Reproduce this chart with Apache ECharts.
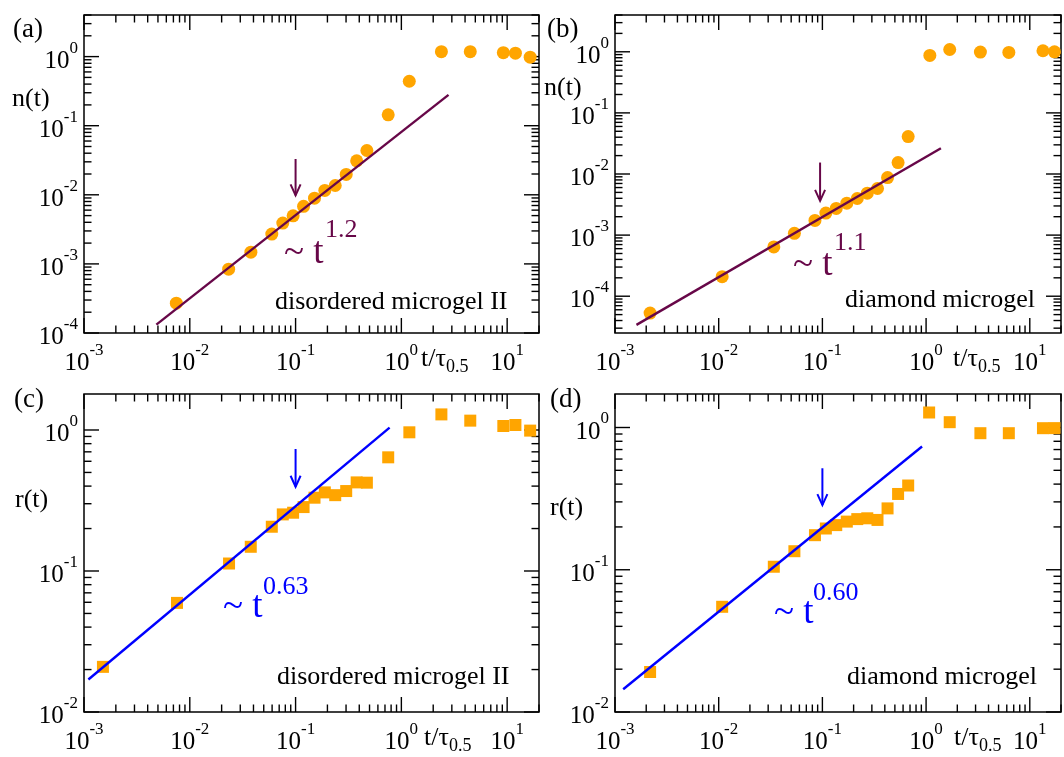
<!DOCTYPE html>
<html>
<head>
<meta charset="utf-8">
<script src="https://cdn.jsdelivr.net/npm/echarts@6/dist/echarts.min.js"></script>
<style>
html,body{margin:0;padding:0;background:#fff;}
#chart{width:1064px;height:757px;}
</style>
</head>
<body>
<div id="chart"></div>
<script>
// ---------------- data ----------------
// (a) n(t), disordered microgel II
const tA = [0.00746, 0.0233, 0.0378, 0.0596, 0.0757, 0.0948, 0.119, 0.151, 0.189, 0.237, 0.301, 0.378, 0.472, 0.751, 1.188, 2.39, 4.48, 9.2, 11.97, 16.5];
const nA = [2.7e-4, 8.4e-4, 1.48e-3, 2.7e-3, 3.9e-3, 4.97e-3, 6.8e-3, 8.95e-3, 0.01156, 0.01364, 0.0197, 0.031, 0.0438, 0.1435, 0.44, 1.18, 1.18, 1.14, 1.12, 0.98];
// (b) n(t), diamond microgel
const tB = [0.00218, 0.0108, 0.034, 0.0537, 0.0848, 0.108, 0.136, 0.172, 0.217, 0.271, 0.34, 0.425, 0.537, 0.672, 1.087, 1.69, 3.34, 6.28, 13.4, 17.3];
const nB = [5.3e-5, 2.09e-4, 6.4e-4, 1.07e-3, 1.74e-3, 2.29e-3, 2.73e-3, 3.33e-3, 3.97e-3, 4.86e-3, 5.79e-3, 8.75e-3, 0.0154, 0.0409, 0.871, 1.09, 0.99, 0.975, 1.04, 1.0];
// (c) r(t), disordered microgel II
const tC = [0.00151, 0.00757, 0.0235, 0.0377, 0.0596, 0.0757, 0.0948, 0.119, 0.151, 0.189, 0.237, 0.301, 0.378, 0.472, 0.751, 1.19, 2.39, 4.48, 9.2, 11.97, 16.5];
const rC = [0.0209, 0.0594, 0.113, 0.1485, 0.206, 0.252, 0.259, 0.284, 0.331, 0.361, 0.345, 0.369, 0.425, 0.423, 0.64, 0.963, 1.29, 1.165, 1.067, 1.085, 0.99];
// (d) r(t), diamond microgel
const tD = [0.00218, 0.0108, 0.034, 0.0537, 0.0848, 0.108, 0.136, 0.172, 0.217, 0.271, 0.34, 0.425, 0.537, 0.672, 1.07, 1.69, 3.34, 6.28, 13.4, 17.3];
const rD = [0.0191, 0.0549, 0.105, 0.135, 0.175, 0.195, 0.206, 0.218, 0.227, 0.230, 0.224, 0.270, 0.341, 0.391, 1.275, 1.09, 0.912, 0.912, 0.989, 0.99];

// power-law guide lines: [t, value] end points
const fitA = [[0.00483, 1.32e-4], [2.79, 0.279]];
const fitB = [[0.00161, 3.4e-5], [1.39, 0.0264]];
const fitC = [[0.0011, 0.017], [0.774, 1.039]];
const fitD = [[0.0012, 0.01445], [0.914, 0.735]];

// arrows: [t, from value, to value]
const arrowA = [0.1, 0.033, 0.0098];
const arrowB = [0.095, 0.0154, 0.00364];
const arrowC = [0.1, 0.733, 0.396];
const arrowD = [0.1, 0.517, 0.285];

// axis ranges
const xRange = [0.001, 20];
const yRangeA = [1e-4, 4];
const yRangeB = [2.5e-5, 4];
const yRangeC = [0.01, 1.8];
const yRangeD = [0.01, 1.72];

// texts
const panelLetters = ['(a)', '(b)', '(c)', '(d)'];
const yTitles = ['n(t)', 'n(t)', 'r(t)', 'r(t)'];
const sampleNames = ['disordered microgel II', 'diamond microgel', 'disordered microgel II', 'diamond microgel'];
const exponents = ['1.2', '1.1', '0.63', '0.60'];
const minorMultipliers = [2, 3, 4, 5, 6, 7, 8, 9];

// ---------------- style ----------------
const SERIF = 'Liberation Serif, Times New Roman, serif';
const ORANGE = '#FFA500';
const MAROON = '#670748';
const BLUE = '#0000FF';

const panels = [
  {grid: {left: 84, top: 15, width: 455, height: 318}, t: tA, v: nA, yr: yRangeA, sym: 'circle', size: 13, fit: fitA, arrow: arrowA, col: MAROON,
   letter: [13, 30], ytitle: [12, 99], tlabel: [421, 361], name: [275, 302], law: [284, 253], sup: [325, 230]},
  {grid: {left: 615, top: 15, width: 449, height: 318}, t: tB, v: nB, yr: yRangeB, sym: 'circle', size: 13, fit: fitB, arrow: arrowB, col: MAROON,
   letter: [547, 30], ytitle: [544, 88], tlabel: [953, 361], name: [845, 300], law: [793, 265], sup: [834, 243]},
  {grid: {left: 84, top: 394, width: 455, height: 318}, t: tC, v: rC, yr: yRangeC, sym: 'rect', size: 12, fit: fitC, arrow: arrowC, col: BLUE,
   letter: [14, 400], ytitle: [15, 500], tlabel: [424, 740], name: [277, 677], law: [223, 607], sup: [263, 587]},
  {grid: {left: 615, top: 394, width: 449, height: 318}, t: tD, v: rD, yr: yRangeD, sym: 'rect', size: 12, fit: fitD, arrow: arrowD, col: BLUE,
   letter: [550, 400], ytitle: [550, 508], tlabel: [954, 740], name: [847, 677], law: [774, 613], sup: [813, 593]}
];

function powLabel(v) {
  const l = Math.log10(v);
  const e = Math.round(l);
  if (Math.abs(l - e) > 1e-6) return '';
  return '{b|10}{s|' + e + '}';
}
const labelRich = {
  b: {fontSize: 25, fontFamily: SERIF, color: '#000', padding: [9, 0, 0, 0], verticalAlign: 'bottom'},
  s: {fontSize: 17, fontFamily: SERIF, color: '#000', verticalAlign: 'top'}
};

function tickData(xr, yr) {
  const out = [];
  const mult = [1].concat(minorMultipliers);
  for (let e = Math.floor(Math.log10(xr[0])); e <= Math.ceil(Math.log10(xr[1])); e++) {
    mult.forEach(k => {
      const v = k * Math.pow(10, e);
      if (v >= xr[0] * (1 - 1e-9) && v <= xr[1] * (1 + 1e-9)) out.push([v, yr[0], k === 1 ? 0 : 1]);
    });
  }
  for (let e = Math.floor(Math.log10(yr[0])); e <= Math.ceil(Math.log10(yr[1])); e++) {
    mult.forEach(k => {
      const v = k * Math.pow(10, e);
      if (v >= yr[0] * (1 - 1e-9) && v <= yr[1] * (1 + 1e-9)) out.push([xr[0], v, k === 1 ? 2 : 3]);
    });
  }
  return out;
}

function renderTick(params, api) {
  const cs = params.coordSys;
  const type = api.value(2);
  const p = api.coord([api.value(0), api.value(1)]);
  const len = (type === 0 || type === 2) ? 15 : 7.5;
  const st = {stroke: '#000', lineWidth: 1.4};
  let a, b;
  if (type < 2) {
    const x = p[0];
    a = {x1: x, y1: cs.y + cs.height, x2: x, y2: cs.y + cs.height - len};
    b = {x1: x, y1: cs.y, x2: x, y2: cs.y + len};
  } else {
    const y = p[1];
    a = {x1: cs.x, y1: y, x2: cs.x + len, y2: y};
    b = {x1: cs.x + cs.width, y1: y, x2: cs.x + cs.width - len, y2: y};
  }
  return {type: 'group', children: [
    {type: 'line', shape: a, style: st},
    {type: 'line', shape: b, style: st}
  ]};
}

function makeArrowRenderer(color) {
  return function (params, api) {
    const p1 = api.coord([api.value(0), api.value(1)]);
    const p2 = api.coord([api.value(0), api.value(2)]);
    const st = {stroke: color, lineWidth: 2, fill: null};
    return {type: 'group', children: [
      {type: 'line', shape: {x1: p1[0], y1: p1[1], x2: p2[0], y2: p2[1]}, style: st},
      {type: 'polyline', shape: {points: [[p2[0] - 5, p2[1] - 11], [p2[0], p2[1]], [p2[0] + 5, p2[1] - 11]]}, style: st}
    ]};
  };
}

const grids = [], xAxes = [], yAxes = [], series = [], graphics = [];
panels.forEach((P, i) => {
  grids.push(Object.assign({show: true, borderColor: '#000', borderWidth: 1.5, backgroundColor: 'transparent', containLabel: false}, P.grid));
  xAxes.push({
    type: 'log', logBase: 10, gridIndex: i, min: xRange[0], max: xRange[1],
    axisLine: {show: false}, axisTick: {show: false}, splitLine: {show: false}, minorTick: {show: false},
    axisLabel: {formatter: powLabel, rich: labelRich, margin: 9, hideOverlap: false, showMinLabel: true, showMaxLabel: true}
  });
  yAxes.push({
    type: 'log', logBase: 10, gridIndex: i, min: P.yr[0], max: P.yr[1],
    axisLine: {show: false}, axisTick: {show: false}, splitLine: {show: false}, minorTick: {show: false},
    axisLabel: {formatter: powLabel, rich: labelRich, margin: 6, hideOverlap: false, showMinLabel: true, showMaxLabel: true}
  });
  series.push({
    type: 'custom', xAxisIndex: i, yAxisIndex: i, renderItem: renderTick, silent: true, z: 1,
    encode: {x: 0, y: 1}, data: tickData(xRange, P.yr), clip: false
  });
  series.push({
    type: 'scatter', xAxisIndex: i, yAxisIndex: i, symbol: P.sym, symbolSize: P.size,
    itemStyle: {color: ORANGE, opacity: 1}, z: 3, silent: true,
    data: P.t.map((t, k) => [t, P.v[k]])
  });
  series.push({
    type: 'line', xAxisIndex: i, yAxisIndex: i, data: P.fit, showSymbol: false, symbol: 'none',
    lineStyle: {color: P.col, width: 2.4}, z: 4, silent: true
  });
  series.push({
    type: 'custom', xAxisIndex: i, yAxisIndex: i, renderItem: makeArrowRenderer(P.col), silent: true, z: 4,
    encode: {x: 0, y: 1}, data: [P.arrow]
  });

  const txt = (x, y, text, size, color) => ({
    type: 'text', x: x, y: y, silent: true,
    style: {text: text, fontSize: size, fontFamily: SERIF, fill: color || '#000', verticalAlign: 'middle', align: 'left'}
  });
  graphics.push(txt(P.letter[0], P.letter[1], panelLetters[i], 27));
  graphics.push(txt(P.ytitle[0], P.ytitle[1], yTitles[i], 26));
  graphics.push(txt(P.name[0], P.name[1], sampleNames[i], 26));
  graphics.push(txt(P.law[0], P.law[1], '~ t', 37, P.col));
  graphics.push(txt(P.sup[0], P.sup[1], exponents[i], 26, P.col));
  graphics.push({
    type: 'text', x: P.tlabel[0], y: P.tlabel[1], silent: true,
    style: {
      text: '{m|t/τ}{u|0.5}', verticalAlign: 'middle', align: 'left',
      rich: {
        m: {fontSize: 26, fontFamily: SERIF, fill: '#000', verticalAlign: 'top'},
        u: {fontSize: 18, fontFamily: SERIF, fill: '#000', padding: [12, 0, 0, 0], verticalAlign: 'bottom'}
      }
    }
  });
});

const chart = echarts.init(document.getElementById('chart'), null, {renderer: 'canvas'});
chart.setOption({
  animation: false,
  backgroundColor: '#fff',
  textStyle: {fontFamily: SERIF},
  grid: grids,
  xAxis: xAxes,
  yAxis: yAxes,
  series: series,
  graphic: graphics
});
</script>
</body>
</html>
